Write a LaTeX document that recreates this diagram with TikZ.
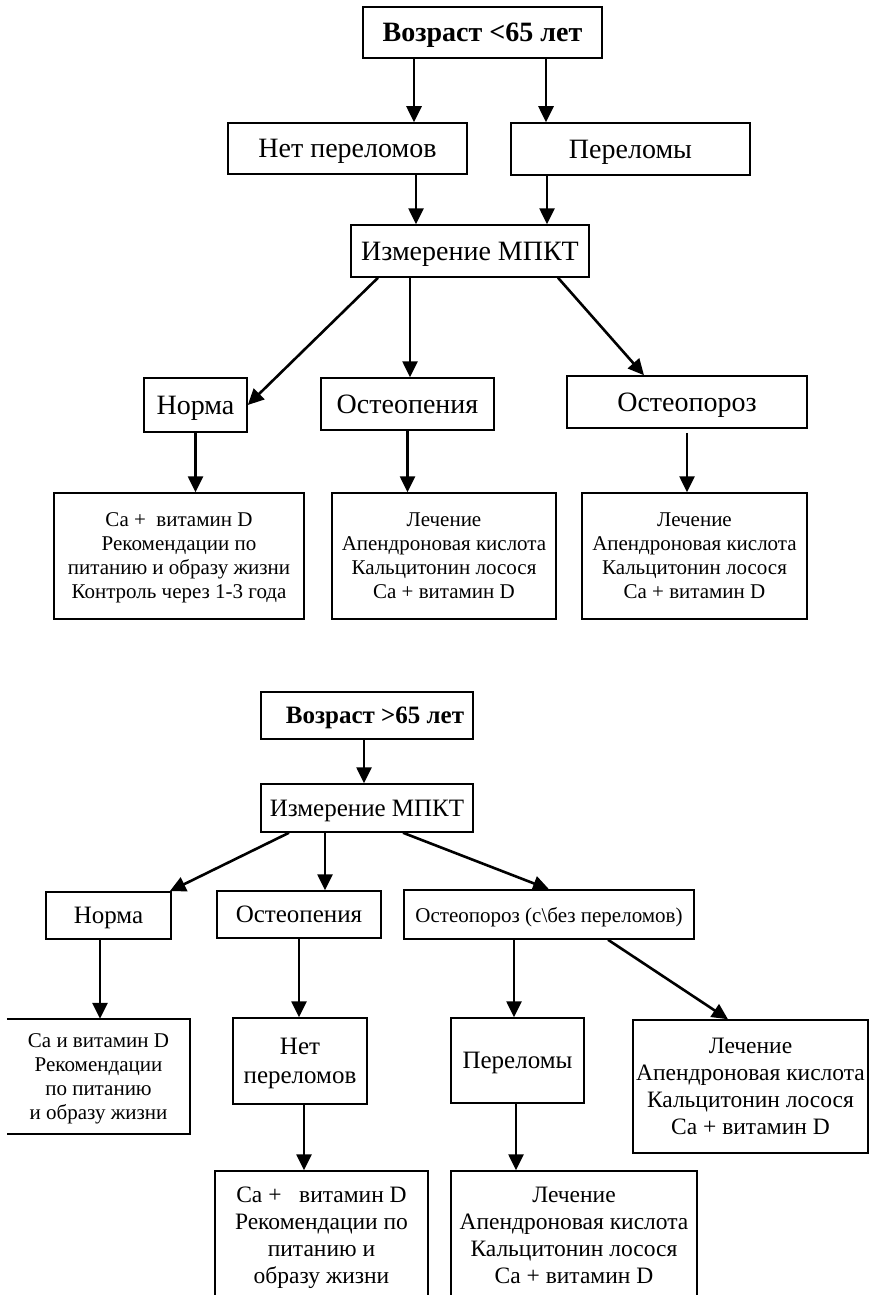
\documentclass[tikz,border=0pt]{standalone}
\usepackage{fontspec}
\setmainfont{Liberation Serif}
\usetikzlibrary{arrows.meta,calc}
\begin{document}
\begin{tikzpicture}[x=1pt,y=-1pt,
  box/.style={draw, line width=1.5pt, inner sep=0pt, text depth=0pt},
  ml/.style={align=center},
  big/.style={font=\fontsize{28}{32}\selectfont},
  mid/.style={font=\fontsize{25}{29}\selectfont},
  sml/.style={font=\fontsize{21}{24}\selectfont},
  lrg/.style={font=\fontsize{23.5}{27}\selectfont},
  arr/.style={line width=2.6pt, -{Triangle[length=16pt,width=15pt]}},
  ln/.style={line width=1.5pt}
]
\useasboundingbox (0,0) rectangle (869,1295);
\fill[white] (0,0) rectangle (869,1295);

% ---------- first diagram ----------
\node[box,big,minimum width=239pt,minimum height=51pt] (top) at (482.5,32.5) {\textbf{Возраст <65 лет}};
\node[box,big,minimum width=239pt,minimum height=51pt] (nf) at (347.5,148.5) {Нет переломов};
\node[box,big,minimum width=239pt,minimum height=52pt] (fr) at (630.5,149) {Переломы};
\node[box,big,minimum width=238pt,minimum height=52pt] (meas) at (470,251) {Измерение МПКТ};
\node[box,big,minimum width=103pt,minimum height=54pt] (norm) at (195.5,405) {Норма};
\node[box,big,minimum width=173pt,minimum height=52pt] (openia) at (407.5,404) {Остеопения};
\node[box,big,minimum width=240pt,minimum height=52pt] (oporoz) at (687,402) {Остеопороз\hspace{24pt}};
\node[box,ml,sml,minimum width=250pt,minimum height=126pt] (r1) at (179,556)
  {Ca +\ \ витамин D\\Рекомендации по\\питанию и образу жизни\\Контроль через 1-3 года};
\node[box,ml,sml,minimum width=224pt,minimum height=126pt] (r2) at (444,556)
  {Лечение\\Апендроновая кислота\\Кальцитонин лосося\\Ca + витамин D};
\node[box,ml,sml,minimum width=225pt,minimum height=126pt] (r3) at (694.5,556)
  {Лечение\\Апендроновая кислота\\Кальцитонин лосося\\Ca + витамин D};

\coordinate (a1) at ([xshift=-68.5pt]top.south);
\coordinate (a2) at ([xshift=63.5pt]top.south);
\draw[arr] (a1) -- (a1 |- nf.north);
\draw[arr] (a2) -- (a2 |- fr.north);
\coordinate (a3) at ([xshift=68.5pt]nf.south);
\coordinate (a4) at ([xshift=-83.5pt]fr.south);
\draw[arr] (a3) -- (a3 |- meas.north);
\draw[arr] (a4) -- (a4 |- meas.north);
\draw[arr] ([xshift=-92pt]meas.south) -- (norm.east);
\coordinate (a5) at ([xshift=-60pt]meas.south);
\draw[arr] (a5) -- (a5 |- openia.north);
\draw[arr] ([xshift=88pt]meas.south) -- ([xshift=-43pt]oporoz.north);
\draw[arr] (norm.south) -- (norm.south |- r1.north);
\draw[arr] (openia.south) -- (openia.south |- r2.north);
\coordinate (a6) at ([yshift=-4pt]oporoz.south);
\draw[arr] (a6) -- (a6 |- r3.north);

% ---------- second diagram ----------
\node[box,mid,minimum width=212pt,minimum height=47pt] (top2) at (367,715.5) {\hspace*{16pt}\textbf{Возраст >65 лет}};
\node[box,mid,minimum width=212pt,minimum height=48pt] (meas2) at (367,808) {Измерение МПКТ};
\node[box,mid,minimum width=125pt,minimum height=47pt] (norm2) at (108.5,915.5) {Норма};
\node[box,mid,minimum width=164pt,minimum height=47pt] (op2) at (299,914.5) {Остеопения};
\node[box,sml,minimum width=290pt,minimum height=49pt] (opz2) at (549,914.5) {Остеопороз (с\textbackslash без переломов)};
\node[ml,sml,inner sep=0pt,text depth=0pt,minimum width=183pt,minimum height=115pt] (b1) at (98.5,1076.5)
  {Ca и витамин D\\Рекомендации\\по питанию\\и образу жизни};
\draw[ln] (b1.north west) -- (b1.north east) -- (b1.south east) -- (b1.south west);
\node[box,ml,mid,minimum width=134pt,minimum height=86pt] (nf2) at (300,1061) {Нет\\переломов};
\node[box,mid,minimum width=133pt,minimum height=85pt] (fr2) at (517.5,1060.5) {Переломы};
\node[box,ml,lrg,minimum width=235pt,minimum height=133pt] (tr2) at (750.5,1086.5)
  {Лечение\\Апендроновая кислота\\Кальцитонин лосося\\Ca + витамин D};
\node[box,ml,lrg,minimum width=213pt,minimum height=129pt] (b2) at (321.5,1235.5)
  {Ca +\ \ \ витамин D\\Рекомендации по\\питанию и\\образу жизни};
\node[box,ml,lrg,minimum width=246pt,minimum height=129pt] (b3) at (574,1235.5)
  {Лечение\\Апендроновая кислота\\Кальцитонин лосося\\Ca + витамин D};

\coordinate (c1) at ([xshift=-3pt]top2.south);
\draw[arr] (c1) -- (c1 |- meas2.north);
\draw[arr] ([xshift=-78pt]meas2.south) -- ([xshift=-2pt]norm2.north east);
\coordinate (c2) at ([xshift=-42pt]meas2.south);
\draw[arr] (c2) -- (c2 |- op2.north);
\draw[arr] ([xshift=36pt]meas2.south) -- (opz2.north);
\coordinate (c3) at ([xshift=-8.5pt]norm2.south);
\draw[arr] (c3) -- (c3 |- b1.north);
\draw[arr] (op2.south) -- (op2.south |- nf2.north);
\coordinate (c4) at ([xshift=-35pt]opz2.south);
\draw[arr] (c4) -- (c4 |- fr2.north);
\draw[arr] ([xshift=59pt]opz2.south) -- ([xshift=-22.5pt]tr2.north);
\coordinate (c5) at ([xshift=4pt]nf2.south);
\draw[arr] (c5) -- (c5 |- b2.north);
\coordinate (c6) at ([xshift=-1.5pt]fr2.south);
\draw[arr] (c6) -- (c6 |- b3.north);
\end{tikzpicture}
\end{document}
